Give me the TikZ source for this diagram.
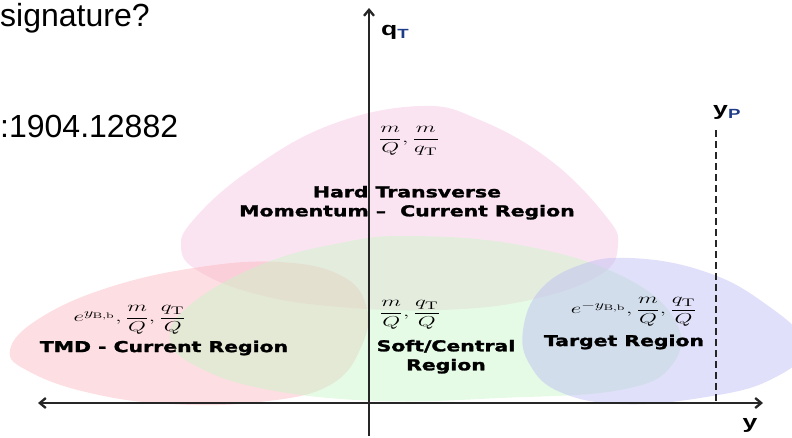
\documentclass[tikz,border=0pt]{standalone}
\usepackage{amsmath}
\usepackage[no-math]{fontspec}
\setmainfont{Liberation Sans}
\newfontfamily\heavyfont{DejaVu Sans}[BoldFeatures={FakeBold=1.6}]
\usepackage{graphicx}
\usepackage{xcolor}
\usetikzlibrary{arrows.meta}
\definecolor{hpink}{HTML}{F7C4E2}
\definecolor{tred}{HTML}{FBB6BE}
\definecolor{sgreen}{HTML}{C6F6C6}
\definecolor{tblue}{HTML}{BBBBF4}
\definecolor{lblue}{HTML}{1F3C88}
% the figure is stretched sideways in the slide
\newcommand{\wide}[2][1.6]{\scalebox{#1}[1]{#2}}
\tikzset{
  region/.style = {fill=#1, fill opacity=0.45, draw=none},
  axis/.style   = {line width=2.3pt, black!85},
  ends/.style   = {{Straight Barb[length=6pt,width=10pt]}-{Straight Barb[length=6pt,width=10pt]}},
  uptip/.style  = {-{Straight Barb[length=6pt,width=10pt]}},
  ylim/.style   = {line width=2.5pt, black!85, dash pattern=on 7pt off 4pt},
  slide/.style  = {font=\fontsize{32}{36}\selectfont, inner sep=0pt},
  axlbl/.style  = {font=\fontsize{19}{22}\selectfont\bfseries, inner sep=0pt},
  rname/.style  = {font=\heavyfont\fontsize{15}{19}\selectfont\bfseries, inner sep=0pt},
  pc/.style     = {font=\fontsize{15.5}{18}\selectfont, inner sep=0pt},
}
\begin{document}
\begin{tikzpicture}[x=1pt,y=-1pt]
\useasboundingbox (0,0) rectangle (792,437);

% regions
\fill[region=hpink] plot[smooth cycle, tension=0.7] coordinates {
  (420,106) (480,120) (550,160) (605,215) (618,245) (600,275) (530,300)
  (440,310) (340,307) (260,295) (200,272) (181,248) (195,218) (250,170) (330,125)};
\fill[region=tred] plot[smooth cycle, tension=0.7] coordinates {
  (10,350) (40,318) (110,287) (200,267) (280,262) (340,275) (366,305)
  (362,345) (330,385) (260,402) (170,404) (90,393) (30,372)};
\fill[region=sgreen] plot[smooth cycle, tension=0.7] coordinates {
  (410,236) (520,245) (620,275) (675,320) (672,365) (620,390) (500,398)
  (380,401) (270,390) (200,368) (170,340) (190,305) (260,265) (340,243)};
\fill[region=tblue] plot[smooth cycle, tension=0.7] coordinates {
  (523,330) (540,290) (580,265) (630,258) (700,270) (760,300) (805,345)
  (770,380) (700,398) (620,404) (560,392) (530,365)};

% axes
\coordinate (yleft) at (38,403);
\coordinate (yright) at (763,403);
\coordinate (qbot) at (369,436);
\coordinate (qtop) at (369,8);
\coordinate (yptop) at (716,130);
\coordinate (ypbot) at (yptop |- yleft);
\draw[axis, ends] (yleft) -- (yright);
\draw[axis, uptip] (qbot) -- (qtop);
\draw[ylim] (yptop) -- (ypbot);

\node[axlbl, anchor=base west] (qlab) at (381,35) {\wide[1.4]{q$_{\text{\color{lblue}T}}$}};
\node[axlbl, anchor=base west] (yplab) at (713,115) {\wide[1.4]{y$_{\text{\color{lblue}P}}$}};
\node[axlbl] (ylab) at (750,425) {\wide[1.4]{y}};

% slide text
\node[slide, anchor=base west] (sig) at (0,26) {signature?};
\node[slide, anchor=base west] (arx) at (0,137) {:1904.12882};

% power counting
\node[pc] (hardpc) at (409,141) {\wide{$\dfrac{m}{Q},\dfrac{m}{q_{\mathrm{T}}}$}};
\node[pc] (tmdpc) at (130,320) {\wide{$e^{y_{\mathrm{B,b}}},\dfrac{m}{Q},\dfrac{q_{\mathrm{T}}}{Q}$}};
\node[pc] (softpc) at (410,315) {\wide{$\dfrac{m}{Q},\dfrac{q_{\mathrm{T}}}{Q}$}};
\node[pc] (tgtpc) at (634,312) {\wide{$e^{-y_{\mathrm{B,b}}},\dfrac{m}{Q},\dfrac{q_{\mathrm{T}}}{Q}$}};

% region names
\node[rname] (hard) at (407,203) {\wide[1.36]{\begin{tabular}{@{}c@{}}Hard Transverse\\Momentum –\ \ Current Region\end{tabular}}};
\node[rname] (tmd) at (164,348) {\wide[1.36]{TMD - Current Region}};
\node[rname] (soft) at (446,357) {\wide[1.36]{\begin{tabular}{@{}c@{}}Soft/Central\\Region\end{tabular}}};
\node[rname] (tgt) at (624,342) {\wide[1.36]{Target Region}};
\end{tikzpicture}
\end{document}
